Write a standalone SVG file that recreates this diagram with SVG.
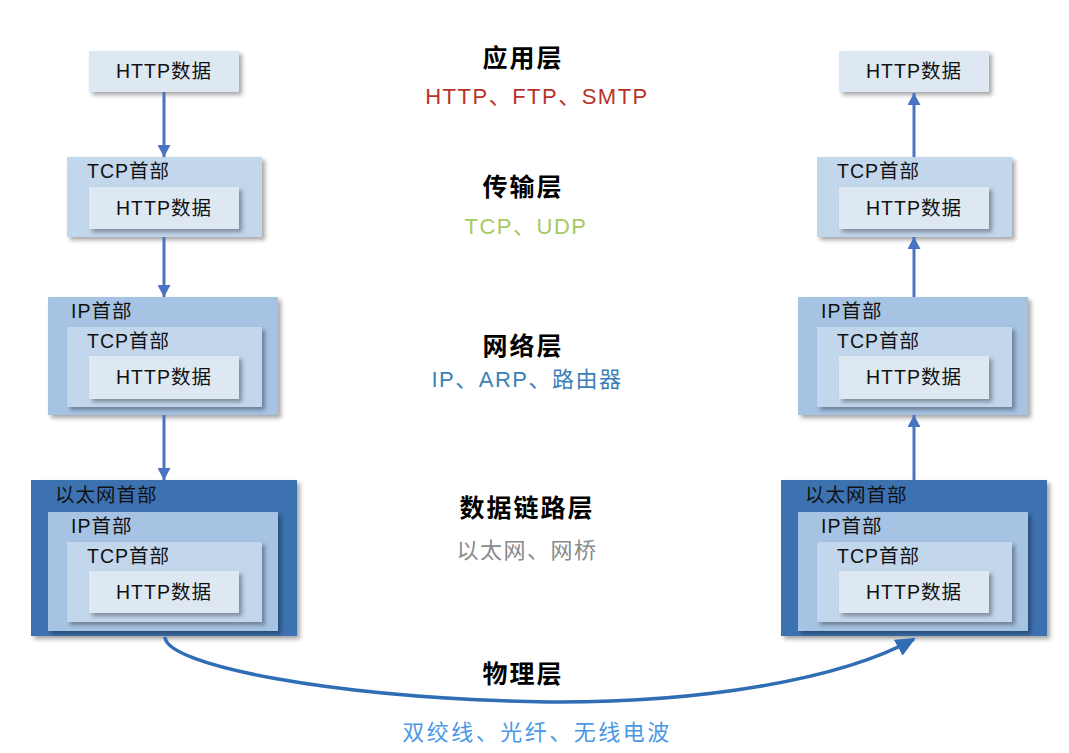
<svg xmlns="http://www.w3.org/2000/svg" width="1069" height="753" viewBox="0 0 1069 753">
<defs>
<filter id="sh" x="-10%" y="-10%" width="125%" height="130%">
<feDropShadow dx="3" dy="3" stdDeviation="2" flood-color="#000" flood-opacity="0.35"/>
</filter>
<marker id="ah" markerWidth="12" markerHeight="13" refX="12" refY="6.5" orient="auto" markerUnits="userSpaceOnUse" viewBox="0 0 12 13">
<path d="M0,0 L12,6.5 L0,13 Z" fill="#4a73c2"/>
</marker>
<marker id="ah2" markerWidth="20" markerHeight="18" refX="18" refY="9" orient="auto" markerUnits="userSpaceOnUse" viewBox="0 0 20 18">
<path d="M0,0 L20,9 L0,18 Z" fill="#2f6db5"/>
</marker>
</defs>
<style>
.http{fill:#dde8f3;filter:url(#sh)}
.tcp{fill:#c2d6ec;filter:url(#sh)}
.ip{fill:#a6c3e3;filter:url(#sh)}
.eth{fill:#3d72b1;filter:url(#sh)}
.lbl{font-family:"Liberation Sans","Noto Sans CJK SC",sans-serif;font-size:19.5px;letter-spacing:1px;fill:#111}
.mid{text-anchor:middle}
.title{font-family:"Noto Sans CJK SC",sans-serif;font-size:25px;font-weight:bold;fill:#000;text-anchor:middle;letter-spacing:2px}
.sub{font-family:"Liberation Sans","Noto Sans CJK SC",sans-serif;font-size:22px;text-anchor:middle;letter-spacing:1.5px}
.arr{stroke:#4a73c2;stroke-width:3;fill:none;marker-end:url(#ah)}
</style>

<!-- Left column -->
<g id="left-app">
<rect class="http" x="89" y="51" width="150" height="41"/>
<text class="lbl mid" x="164" y="78">HTTP数据</text>
</g>
<g id="left-transport">
<rect class="tcp" x="67" y="157" width="195" height="80"/>
<text class="lbl" x="87" y="178">TCP首部</text>
<rect class="http" x="89" y="187" width="150" height="42"/>
<text class="lbl mid" x="164" y="215">HTTP数据</text>
</g>
<g id="left-network">
<rect class="ip" x="48" y="297" width="230" height="118"/>
<text class="lbl" x="71" y="318">IP首部</text>
<rect class="tcp" x="67" y="327" width="195" height="80"/>
<text class="lbl" x="87" y="348">TCP首部</text>
<rect class="http" x="89" y="356" width="150" height="43"/>
<text class="lbl mid" x="164" y="384">HTTP数据</text>
</g>
<g id="left-link">
<rect class="eth" x="31" y="480" width="266" height="156"/>
<text class="lbl" x="55" y="502">以太网首部</text>
<rect class="ip" x="48" y="512" width="230" height="119"/>
<text class="lbl" x="71" y="533">IP首部</text>
<rect class="tcp" x="67" y="542" width="195" height="80"/>
<text class="lbl" x="87" y="563">TCP首部</text>
<rect class="http" x="89" y="571" width="150" height="42"/>
<text class="lbl mid" x="164" y="599">HTTP数据</text>
</g>

<!-- Right column -->
<g id="right-app">
<rect class="http" x="839" y="51" width="150" height="41"/>
<text class="lbl mid" x="914" y="78">HTTP数据</text>
</g>
<g id="right-transport">
<rect class="tcp" x="817" y="157" width="195" height="80"/>
<text class="lbl" x="837" y="178">TCP首部</text>
<rect class="http" x="839" y="187" width="150" height="42"/>
<text class="lbl mid" x="914" y="215">HTTP数据</text>
</g>
<g id="right-network">
<rect class="ip" x="798" y="297" width="230" height="118"/>
<text class="lbl" x="821" y="318">IP首部</text>
<rect class="tcp" x="817" y="327" width="195" height="80"/>
<text class="lbl" x="837" y="348">TCP首部</text>
<rect class="http" x="839" y="356" width="150" height="43"/>
<text class="lbl mid" x="914" y="384">HTTP数据</text>
</g>
<g id="right-link">
<rect class="eth" x="781" y="480" width="266" height="156"/>
<text class="lbl" x="805" y="502">以太网首部</text>
<rect class="ip" x="798" y="512" width="230" height="119"/>
<text class="lbl" x="821" y="533">IP首部</text>
<rect class="tcp" x="817" y="542" width="195" height="80"/>
<text class="lbl" x="837" y="563">TCP首部</text>
<rect class="http" x="839" y="571" width="150" height="42"/>
<text class="lbl mid" x="914" y="599">HTTP数据</text>
</g>

<!-- Layer labels -->
<g id="layer-app">
<text class="title" x="523" y="67">应用层</text>
<text class="sub" x="537" y="104" fill="#b8322a">HTTP、FTP、SMTP</text>
</g>
<g id="layer-transport">
<text class="title" x="523" y="196">传输层</text>
<text class="sub" x="526" y="234" fill="#a6c964">TCP、UDP</text>
</g>
<g id="layer-network">
<text class="title" x="523" y="355">网络层</text>
<text class="sub" x="527" y="387" fill="#3b80b6">IP、ARP、路由器</text>
</g>
<g id="layer-link">
<text class="title" x="527" y="517">数据链路层</text>
<text class="sub" x="527" y="558" fill="#8a8a8a">以太网、网桥</text>
</g>
<g id="layer-physical">
<text class="title" x="523" y="683">物理层</text>
<text class="sub" x="537" y="740" fill="#4a98e6" style="letter-spacing:2.5px">双绞线、光纤、无线电波</text>
</g>

<!-- Connectors -->
<g id="connectors">
<line class="arr" x1="164" y1="92" x2="164" y2="157"/>
<line class="arr" x1="164" y1="237" x2="164" y2="297"/>
<line class="arr" x1="164" y1="415" x2="164" y2="480"/>
<line class="arr" x1="914" y1="157" x2="914" y2="93"/>
<line class="arr" x1="914" y1="297" x2="914" y2="237"/>
<line class="arr" x1="914" y1="480" x2="914" y2="415"/>
<path d="M165,637 C166,665 330,698 548,702 C700,703 840,680 914,639" fill="none" stroke="#2f6db5" stroke-width="3.5" marker-end="url(#ah2)"/>
</g>
</svg>
